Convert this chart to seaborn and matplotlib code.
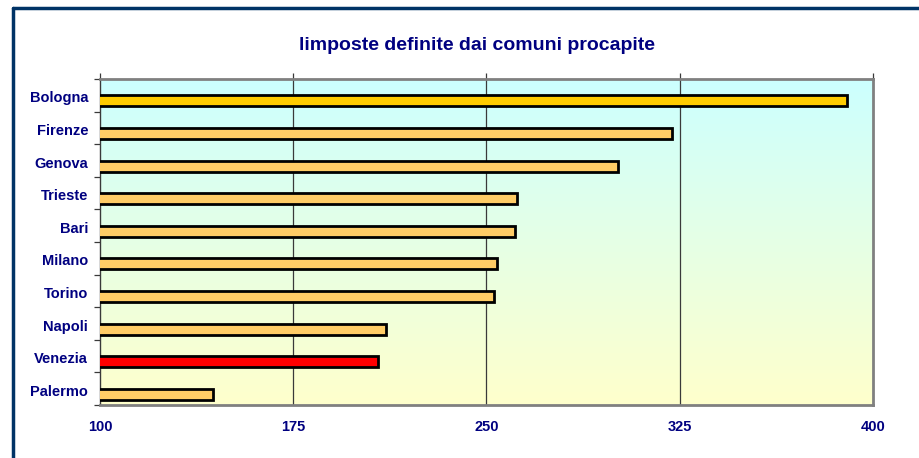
import numpy as np
import matplotlib
matplotlib.use("Agg")
import matplotlib.pyplot as plt
import seaborn as sns
from matplotlib.lines import Line2D

# data
cities = ['Bologna', 'Firenze', 'Genova', 'Trieste', 'Bari',
          'Milano', 'Torino', 'Napoli', 'Venezia', 'Palermo']
values = [390, 322, 301, 262, 261, 254, 253, 211, 208, 144]
bar_colors = ['#FFCC00', '#FFCC66', '#FFCC66', '#FFCC66', '#FFCC66',
              '#FFCC66', '#FFCC66', '#FFCC66', '#FF0000', '#FFCC66']
xticks = [100, 175, 250, 325, 400]

navy = '#000080'
sns.set_style('white')
plt.rcParams['font.family'] = ['Liberation Sans', 'DejaVu Sans']

fig = plt.figure(figsize=(9.2, 4.58), dpi=100)
ax = fig.add_axes([100 / 920, 53 / 458, 773 / 920, 326 / 458])

# gradient background cyan -> light yellow
grad = np.linspace(0, 1, 256).reshape(-1, 1)
top = np.array([0xCC, 0xFF, 0xFF]) / 255
bot = np.array([0xFF, 0xFF, 0xCC]) / 255
img = top[None, None, :] * (1 - grad[:, :, None]) + bot[None, None, :] * grad[:, :, None]
ax.imshow(img, extent=[0, 1, 0, 1], transform=ax.transAxes, aspect='auto', zorder=0)

sns.barplot(x=values, y=cities, hue=cities, palette=bar_colors, legend=False,
            orient='h', width=0.34, saturation=1, edgecolor='black',
            linewidth=2, ax=ax, zorder=3)

off = 0.17
ax.set_xlim(100, 400)
ax.set_ylim(len(cities) - 1 - off + 0.5, -off - 0.5)

ax.set_xticks(xticks)
ax.set_xticklabels([str(t) for t in xticks])
for t in xticks[1:-1]:
    ax.axvline(t, color='#3a3a3a', lw=0.9, zorder=1)
ax.tick_params(axis='x', top=True, bottom=False, labeltop=False, labelbottom=True,
               direction='out', length=4, width=0.9, color='#3a3a3a', pad=7,
               labelsize=10.5, labelcolor=navy)
for lab in ax.get_xticklabels():
    lab.set_fontweight('bold')

ax.set_yticks([i - 0.12 for i in range(len(cities))])
ax.set_yticklabels(cities)
ax.set_yticks([i - off - 0.5 for i in range(len(cities) + 1)], minor=True)
ax.tick_params(axis='y', which='major', length=0, pad=8.5, labelsize=10.5, labelcolor=navy)
ax.tick_params(axis='y', which='minor', left=True, direction='out', length=4,
               width=0.9, color='#3a3a3a')
for lab in ax.get_yticklabels():
    lab.set_fontweight('bold')
ax.set_ylabel('')
ax.set_xlabel('')

for s in ['top', 'right', 'bottom']:
    ax.spines[s].set_color('#808080')
    ax.spines[s].set_linewidth(2)
ax.spines['left'].set_color('#3a3a3a')
ax.spines['left'].set_linewidth(1)

fig.text(477 / 920, 1 - 45 / 458, 'limposte definite dai comuni procapite',
         ha='center', va='center', fontsize=14, fontweight='bold', color=navy)

# outer frame lines (left and top)
fig.add_artist(Line2D([13 / 920, 13 / 920], [0, 1 - 8 / 458], transform=fig.transFigure,
                      color='#003366', lw=2.5))
fig.add_artist(Line2D([13 / 920, 1], [1 - 8 / 458, 1 - 8 / 458], transform=fig.transFigure,
                      color='#003366', lw=2.5))

fig.savefig('out.png', dpi=100)
